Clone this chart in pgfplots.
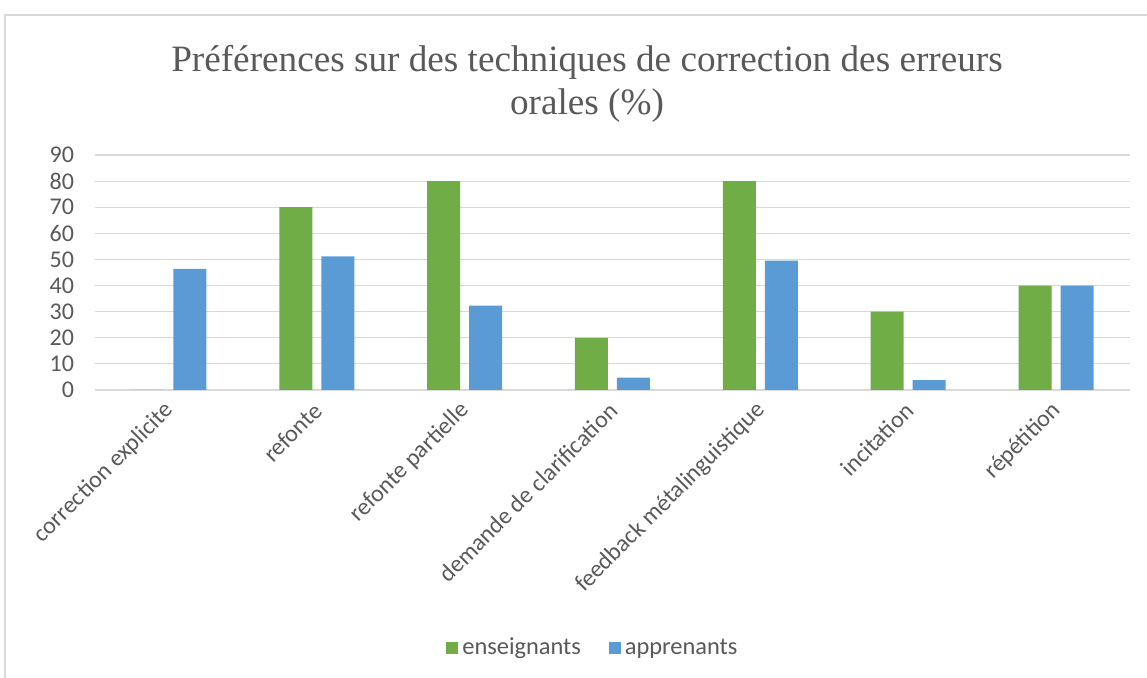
\documentclass[border=0pt]{standalone}
\usepackage{pgfplots}
\pgfplotsset{compat=1.18}
\usepackage{fontspec}
\setmainfont{Carlito}
\newfontfamily\titlefont{Liberation Serif}
\definecolor{ensGreen}{HTML}{70AD47}
\definecolor{appBlue}{HTML}{5B9BD5}
\definecolor{txtGray}{HTML}{595959}
\definecolor{gridGray}{HTML}{D9D9D9}

\begin{document}
\begin{tikzpicture}
\useasboundingbox (0,0) rectangle (573.5pt,339pt);
\draw[gridGray, line width=0.6pt] (2.5pt,-5pt) -- (2.5pt,331.5pt) -- (580pt,331.5pt);
\node[font=\titlefont\fontsize{18.6}{21.5}\selectfont, text=txtGray, align=center] at (293.5pt,297pt)
  {Préférences sur des techniques de correction des erreurs\\orales (\%)};
\begin{axis}[
    at={(47.5pt,144pt)},
    anchor=south west,
    scale only axis,
    width=517.5pt,
    height=117.5pt,
    ybar,
    bar width=16.5pt,
    ymin=0, ymax=90,
    ytick={0,10,...,90},
    xmin=-0.5, xmax=6.5,
    xtick=data,
    xticklabels={correction explicite, refonte, refonte partielle, demande de clarification, feedback métalinguistique, incitation, répétition},
    ymajorgrids=true,
    grid style={draw=gridGray, line width=0.6pt},
    axis line style={draw=none},
    major tick length=0pt,
    /pgf/number format/assume math mode=true,
    tick label style={font=\fontsize{12}{13}\selectfont, text=txtGray},
    yticklabel style={anchor=east, xshift=-7pt},
    xticklabel style={xshift=3pt, yshift=-6pt, rotate=45, anchor=east},
    legend style={draw=none, at={(0.482,-1.098)}, anchor=center, font=\fontsize{12.2}{13}\selectfont, text=txtGray},
    legend columns=2,
    /tikz/every even column/.append style={column sep=12pt},
    legend image code/.code={\fill[#1] (0pt,-3pt) rectangle (6pt,3pt);},
]
\addplot[fill=ensGreen, draw=none, bar shift=-10.5pt] coordinates {
    (0,0) (1,70) (2,80) (3,20) (4,80) (5,30) (6,40)
};
\addlegendentry{enseignants}
\addplot[fill=appBlue, draw=none, bar shift=10.5pt] coordinates {
    (0,46.4) (1,51.2) (2,32.3) (3,4.7) (4,49.5) (5,3.8) (6,40)
};
\addlegendentry{apprenants}
\end{axis}
\end{tikzpicture}
\end{document}
